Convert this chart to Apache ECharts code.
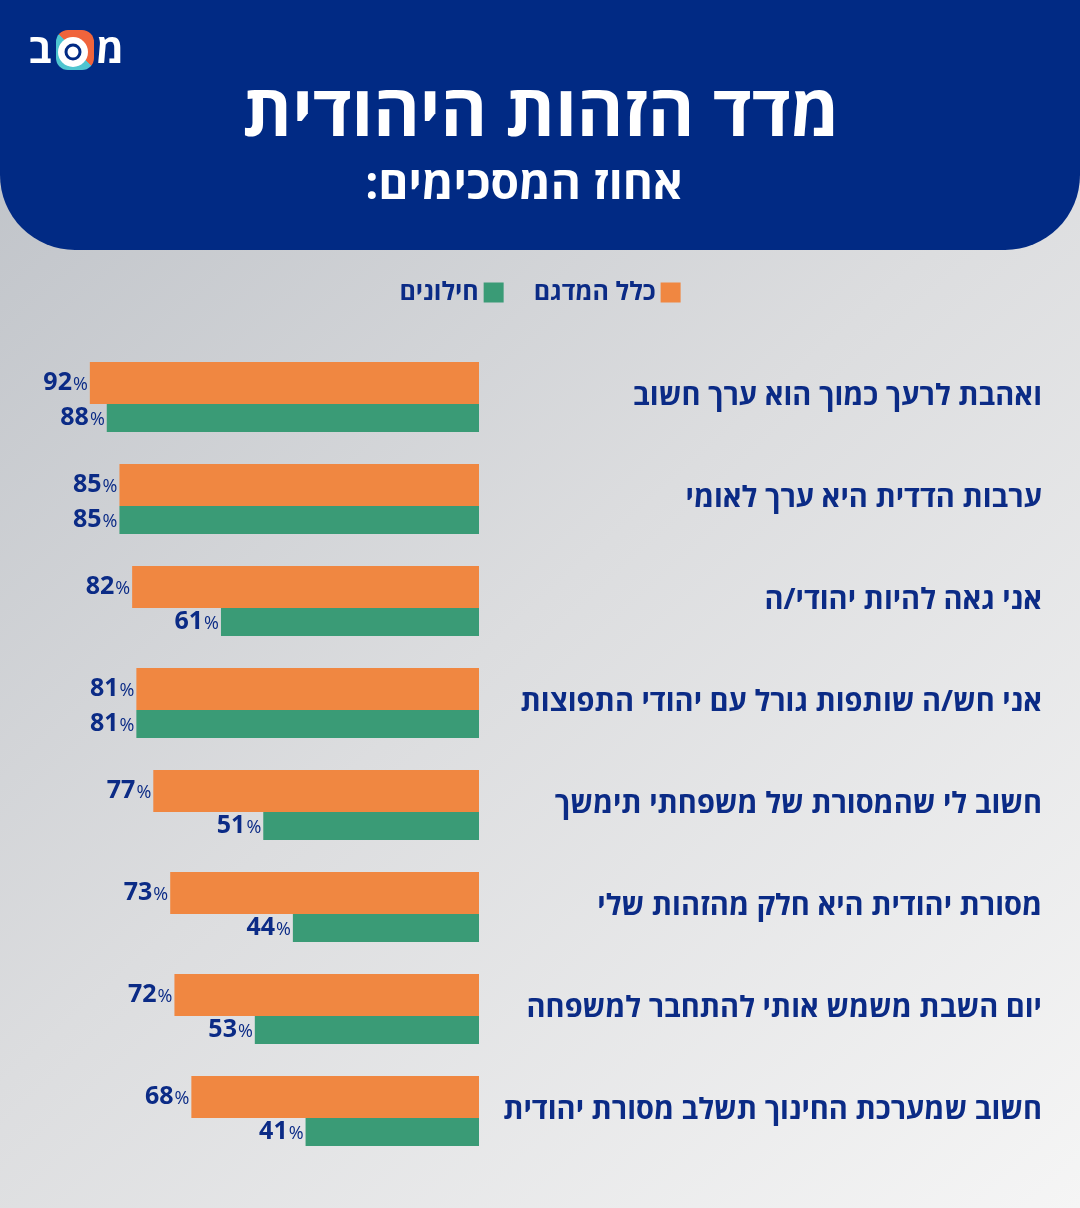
<!DOCTYPE html>
<html>
<head>
<meta charset="utf-8">
<script src="https://cdn.jsdelivr.net/npm/echarts@6/dist/echarts.min.js"></script>
<style>
html,body{margin:0;padding:0;}
#chart{width:1080px;height:1208px;}
</style>
</head>
<body>
<div id="chart" dir="rtl"></div>
<script>
const categories = [
  'ואהבת לרעך כמוך הוא ערך חשוב',
  'ערבות הדדית היא ערך לאומי',
  'אני גאה להיות יהודי/ה',
  'אני חש/ה שותפות גורל עם יהודי התפוצות',
  'חשוב לי שהמסורת של משפחתי תימשך',
  'מסורת יהודית היא חלק מהזהות שלי',
  'יום השבת משמש אותי להתחבר למשפחה',
  'חשוב שמערכת החינוך תשלב מסורת יהודית'
];
const allSample = [92, 85, 82, 81, 77, 73, 72, 68];
const secular = [88, 85, 61, 81, 51, 44, 53, 41];
const seriesNames = ['כלל המדגם', 'חילונים'];
const titleText = 'מדד הזהות היהודית';
const subtitleText = 'אחוז המסכימים:';

const FONT = '"Open Sans", "Liberation Sans", "DejaVu Sans", sans-serif';
const NAVY = '#0b2b86';
const ORANGE = '#f08741';
const GREEN = '#3a9b76';

const chart = echarts.init(document.getElementById('chart'));

const labelCfg = {
  show: true,
  position: 'left',
  distance: 2,
  formatter: p => '{n|' + p.value + '}{p|%}',
  rich: {
    n: {fontFamily: FONT, fontSize: 25, fontWeight: 'bold', color: NAVY},
    p: {fontFamily: FONT, fontSize: 18, fontWeight: 'normal', color: NAVY, padding: [4, 0, 0, 1]}
  }
};

chart.setOption({
  backgroundColor: {
    type: 'linear', x: 0, y: 0, x2: 1, y2: 1,
    colorStops: [{offset: 0, color: '#bcc0c6'}, {offset: 0.5, color: '#dcdddf'}, {offset: 1, color: '#f5f5f5'}]
  },
  textStyle: {fontFamily: FONT},
  animation: false,
  graphic: [
    {type: 'rect', shape: {x: 0, y: 0, width: 1080, height: 250, r: [0, 0, 75, 75]}, style: {fill: '#012a84'}, z: 0},
    {type: 'text', x: 541, y: 116, style: {text: titleText, fill: '#ffffff', font: 'bold 71px ' + FONT, textAlign: 'center', textVerticalAlign: 'middle'}},
    {type: 'text', x: 524, y: 186, style: {text: subtitleText, fill: '#ffffff', font: 'bold 46px ' + FONT, textAlign: 'center', textVerticalAlign: 'middle'}},
    // logo approximation
    {type: 'text', x: 40, y: 52, style: {text: 'ב', fill: '#ffffff', font: 'bold 40px ' + FONT, textAlign: 'center', textVerticalAlign: 'middle'}},
    {type: 'rect', shape: {x: 56, y: 30, width: 38, height: 40, r: 12},
      style: {fill: {type: 'linear', x: 1, y: 0, x2: 0, y2: 1, colorStops: [{offset: 0, color: '#f0643c'}, {offset: 0.5, color: '#f0643c'}, {offset: 0.5, color: '#4ec5d0'}, {offset: 1, color: '#4ec5d0'}]}}},
    {type: 'circle', shape: {cx: 73, cy: 52, r: 15}, style: {fill: '#ffffff'}},
    {type: 'circle', shape: {cx: 73, cy: 52, r: 7}, style: {fill: 'none', stroke: '#012a84', lineWidth: 3}},
    {type: 'text', x: 110, y: 52, style: {text: 'מ', fill: '#ffffff', font: 'bold 40px ' + FONT, textAlign: 'center', textVerticalAlign: 'middle'}}
  ],
  legend: {
    data: [seriesNames[1], seriesNames[0]],
    top: 275,
    left: 'center',
    align: 'right',
    itemWidth: 20,
    itemHeight: 20,
    itemGap: 30,
    icon: 'rect',
    textStyle: {fontFamily: FONT, fontSize: 25, fontWeight: 'bold', color: NAVY}
  },
  grid: {left: 56, right: 601, top: 346, bottom: 46, containLabel: false},
  xAxis: {type: 'value', min: 0, max: 100, inverse: true, show: false},
  yAxis: {
    type: 'category',
    data: categories,
    inverse: true,
    position: 'right',
    axisLine: {show: false},
    axisTick: {show: false},
    splitLine: {show: false},
    axisLabel: {margin: 563, align: 'right', padding: [8, 0, 0, 0], fontFamily: FONT, fontSize: 29, fontWeight: 'bold', color: NAVY}
  },
  series: [
    {name: seriesNames[0], type: 'bar', data: allSample, barWidth: 42, barGap: 0, itemStyle: {color: ORANGE}, label: labelCfg},
    {name: seriesNames[1], type: 'bar', data: secular, barWidth: 28, barGap: 0, itemStyle: {color: GREEN}, label: labelCfg}
  ]
});
</script>
</body>
</html>
